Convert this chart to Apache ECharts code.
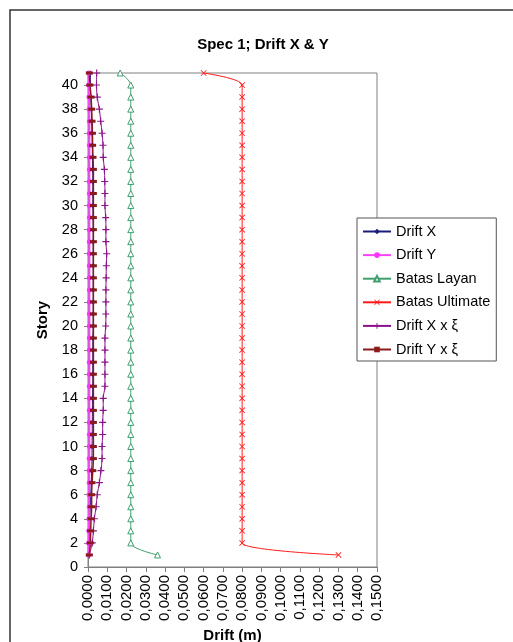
<!DOCTYPE html>
<html>
<head>
<meta charset="utf-8">
<script src="https://cdn.jsdelivr.net/npm/echarts@6/dist/echarts.min.js"></script>
<style>html,body{margin:0;padding:0;background:#fff;}#c{width:513px;height:642px;}</style>
</head>
<body>
<div id="c"></div>
<script>
// Story levels 1..41
const stories = [1,2,3,4,5,6,7,8,9,10,11,12,13,14,15,16,17,18,19,20,21,22,23,24,25,26,27,28,29,30,31,32,33,34,35,36,37,38,39,40,41];
const driftX = [0.0002,0.0006,0.0008,0.0009,0.0012,0.0014,0.0017,0.0019,0.0021,0.0021,0.0022,0.0022,0.0023,0.0023,0.0025,0.0025,0.0025,0.0025,0.0025,0.0027,0.0027,0.0027,0.0027,0.0027,0.0027,0.0027,0.0027,0.0027,0.0026,0.0025,0.0025,0.0025,0.0024,0.0023,0.0022,0.0021,0.0019,0.0017,0.0014,0.0013,0.0013];
const driftY = [0.0002,0.0003,0.0004,0.0005,0.0006,0.0006,0.0006,0.0006,0.0006,0.0007,0.0007,0.0007,0.0007,0.0007,0.0007,0.0007,0.0007,0.0007,0.0007,0.0007,0.0007,0.0007,0.0007,0.0007,0.0007,0.0007,0.0007,0.0007,0.0007,0.0007,0.0007,0.0007,0.0007,0.0007,0.0007,0.0007,0.0007,0.0006,0.0005,0.0004,0.0003];
const batasLayan = [0.0361,0.0222,0.0222,0.0222,0.0222,0.0222,0.0222,0.0222,0.0222,0.0222,0.0222,0.0222,0.0222,0.0222,0.0222,0.0222,0.0222,0.0222,0.0222,0.0222,0.0222,0.0222,0.0222,0.0222,0.0222,0.0222,0.0222,0.0222,0.0222,0.0222,0.0222,0.0222,0.0222,0.0222,0.0222,0.0222,0.0222,0.0222,0.0222,0.0222,0.0167];
const batasUltimate = [0.1300,0.0800,0.0800,0.0800,0.0800,0.0800,0.0800,0.0800,0.0800,0.0800,0.0800,0.0800,0.0800,0.0800,0.0800,0.0800,0.0800,0.0800,0.0800,0.0800,0.0800,0.0800,0.0800,0.0800,0.0800,0.0800,0.0800,0.0800,0.0800,0.0800,0.0800,0.0800,0.0800,0.0800,0.0800,0.0800,0.0800,0.0800,0.0800,0.0800,0.0600];
const driftXxi = [0.0007,0.0022,0.0028,0.0033,0.0042,0.0048,0.0059,0.0067,0.0073,0.0073,0.0076,0.0076,0.0079,0.0079,0.0088,0.0088,0.0088,0.0088,0.0088,0.0092,0.0093,0.0093,0.0093,0.0094,0.0095,0.0097,0.0093,0.0093,0.0092,0.0088,0.0088,0.0087,0.0085,0.0079,0.0078,0.0073,0.0066,0.0059,0.0048,0.0044,0.0045];
const driftYxi = [0.0007,0.0012,0.0014,0.0016,0.0019,0.0019,0.0021,0.0025,0.0028,0.0028,0.0028,0.0028,0.0028,0.0028,0.0028,0.0028,0.0028,0.0028,0.0028,0.0028,0.0028,0.0028,0.0028,0.0028,0.0028,0.0028,0.0028,0.0028,0.0028,0.0028,0.0028,0.0028,0.0028,0.0026,0.0024,0.0023,0.0021,0.0019,0.0016,0.0010,0.0007];
const seriesNames = ['Drift X','Drift Y','Batas Layan','Batas Ultimate','Drift X x ξ','Drift Y x ξ'];

const FONT = 'Liberation Sans, Arial, sans-serif';
const pairs = arr => arr.map((v,i) => [v, stories[i]]);
const xSym = 'path://M0,1L1,0L5,4L9,0L10,1L6,5L10,9L9,10L5,6L1,10L0,9L4,5Z';
const plusSym = 'path://M4.2,0H5.8V4.2H10V5.8H5.8V10H4.2V5.8H0V4.2H4.2Z';

function mk(name, data, color, symbol, size, extra) {
  return Object.assign({
    name, type: 'line', data: pairs(data), smooth: 0.35,
    symbol, symbolSize: size,
    lineStyle: {color, width: 1},
    itemStyle: {color, borderColor: color, borderWidth: 0},
    emphasis: {disabled: true}, animation: false
  }, extra || {});
}

const chart = echarts.init(document.getElementById('c'), null, {renderer: 'canvas'});
chart.setOption({
  backgroundColor: '#fff',
  animation: false,
  textStyle: {fontFamily: FONT},
  title: {
    text: 'Spec 1; Drift X & Y', left: 258, textAlign: 'center', top: 32,
    textStyle: {fontFamily: FONT, fontSize: 15, fontWeight: 'bold', color: '#000'}
  },
  graphic: [{
    type: 'rect', shape: {x: 10, y: 10, width: 600, height: 700},
    style: {fill: 'none', stroke: '#333', lineWidth: 1.5}, z: 100, silent: true
  }],
  grid: {left: 88, right: 136, top: 73, bottom: 75, outerBoundsMode: 'none', containLabel: false,
    show: true, borderColor: '#808080', borderWidth: 1, backgroundColor: '#fff'},
  legend: {
    orient: 'vertical', left: 357, top: 218,
    data: seriesNames,
    backgroundColor: '#fff', borderColor: '#555', borderWidth: 1,
    padding: [6, 6, 4, 5], itemGap: 8.6, itemWidth: 28, itemHeight: 7,
    textStyle: {fontFamily: FONT, fontSize: 14.5, color: '#000'},
    selectedMode: false
  },
  xAxis: {
    type: 'value', min: 0, max: 0.15, interval: 0.01,
    name: 'Drift (m)', nameLocation: 'middle', nameGap: 56,
    nameTextStyle: {fontFamily: FONT, fontSize: 15, fontWeight: 'bold', color: '#000'},
    axisLine: {show: true, lineStyle: {color: '#808080'}},
    axisTick: {show: true, length: 5, lineStyle: {color: '#808080'}},
    splitLine: {show: false},
    axisLabel: {rotate: 90, margin: 8, fontFamily: FONT, fontSize: 15, color: '#000',
      formatter: v => v.toFixed(4).replace('.', ',')}
  },
  yAxis: {
    type: 'value', min: 0, max: 41, interval: 2,
    name: 'Story', nameLocation: 'middle', nameGap: 38,
    nameTextStyle: {fontFamily: FONT, fontSize: 15, fontWeight: 'bold', color: '#000'},
    axisLine: {show: true, lineStyle: {color: '#808080'}},
    axisTick: {show: true, length: 4, lineStyle: {color: '#808080'}},
    splitLine: {show: false},
    axisLabel: {margin: 10, fontFamily: FONT, fontSize: 14.5, color: '#000', showMaxLabel: false,
      formatter: v => (v % 2 === 0 ? String(v) : '')}
  },
  series: [
    mk('Drift X', driftX, '#1c1c7a', 'diamond', 5),
    mk('Drift Y', driftY, '#ff33ff', 'circle', 5, {lineStyle: {color: '#ff44ff', width: 2}}),
    mk('Batas Layan', batasLayan, '#3f9f6f', 'triangle', 6,
       {itemStyle: {color: '#fff', borderColor: '#3f9f6f', borderWidth: 1}}),
    mk('Batas Ultimate', batasUltimate, '#ff1a1a', xSym, 6),
    mk('Drift X x ξ', driftXxi, '#8a128a', plusSym, 7),
    mk('Drift Y x ξ', driftYxi, '#8b1a1a', 'rect', [7, 3], {lineStyle: {color: '#8b1a1a', width: 1.5}})
  ]
});
</script>
</body>
</html>
